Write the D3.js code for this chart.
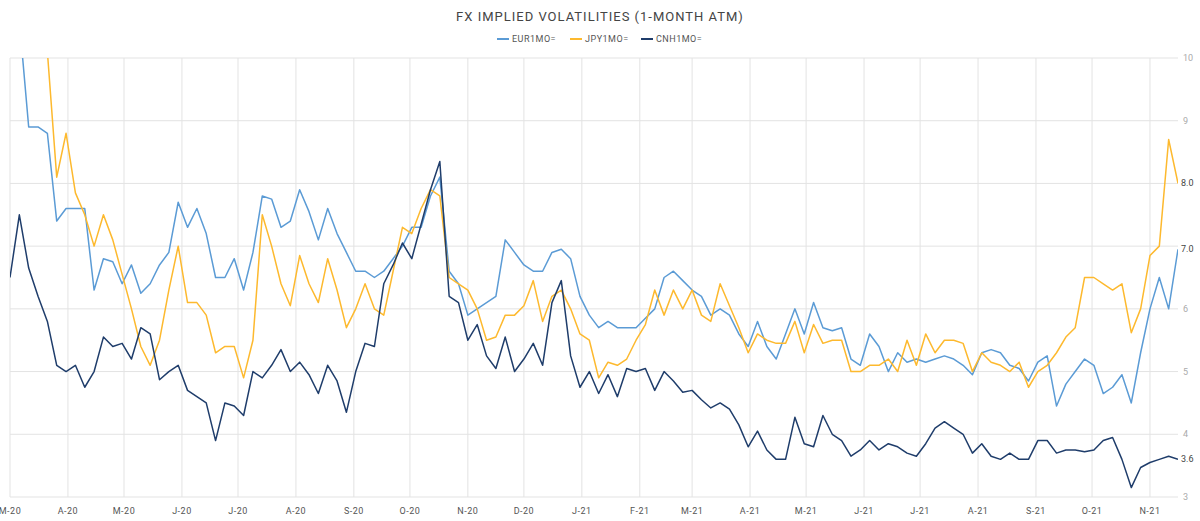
<!DOCTYPE html>
<html>
<head>
<meta charset="utf-8">
<script src="https://cdn.jsdelivr.net/npm/d3@7"></script>
<style>
  body { margin: 0; background: #fff; }
  text { font-family: Roboto, "DejaVu Sans", sans-serif; }
</style>
</head>
<body>
<div id="chart"></div>
<script>
// sampled every 5 days starting 1 Mar 2020
const startDate = new Date(2020, 2, 1);
const stepDays = 5;

const eur = [10.6,10.6,8.9,8.9,8.8,7.4,7.6,7.6,7.6,6.3,6.8,6.75,6.4,6.7,6.25,6.4,6.7,6.9,7.7,7.3,
  7.6,7.2,6.5,6.5,6.8,6.3,6.9,7.8,7.75,7.3,7.4,7.9,7.55,7.1,7.6,7.2,6.9,6.6,6.6,6.5,
  6.6,6.8,7.0,7.3,7.3,7.8,8.1,6.6,6.4,5.9,6.0,6.1,6.2,7.1,6.9,6.7,6.6,6.6,6.9,6.95,
  6.8,6.2,5.9,5.7,5.8,5.7,5.7,5.7,5.85,6.0,6.5,6.6,6.45,6.3,6.2,5.9,6.0,5.9,5.6,5.4,
  5.8,5.4,5.2,5.6,6.0,5.6,6.1,5.7,5.65,5.7,5.2,5.1,5.6,5.4,5.0,5.3,5.15,5.2,5.15,5.2,
  5.25,5.2,5.1,4.95,5.3,5.35,5.3,5.1,5.05,4.85,5.15,5.25,4.45,4.8,5.0,5.2,5.1,4.65,4.75,4.95,
  4.5,5.3,6.0,6.5,6.0,6.95];

const jpy = [11.5,11.2,10.8,10.4,10.1,8.1,8.8,7.85,7.5,7.0,7.5,7.1,6.55,6.0,5.4,5.1,5.5,6.3,7.0,6.1,
  6.1,5.9,5.3,5.4,5.4,4.9,5.5,7.5,7.0,6.4,6.05,6.85,6.4,6.1,6.8,6.3,5.7,6.0,6.4,6.0,
  5.9,6.6,7.3,7.2,7.6,7.9,7.8,6.5,6.4,6.3,6.0,5.5,5.55,5.9,5.9,6.05,6.45,5.8,6.2,6.3,
  6.0,5.6,5.5,4.9,5.15,5.1,5.2,5.5,5.75,6.3,5.9,6.3,6.0,6.3,5.9,5.8,6.4,6.05,5.7,5.3,
  5.6,5.5,5.45,5.45,5.8,5.3,5.75,5.45,5.5,5.5,5.0,5.0,5.1,5.1,5.2,5.0,5.5,5.1,5.6,5.3,
  5.5,5.5,5.45,5.0,5.3,5.15,5.1,5.0,5.15,4.75,5.0,5.1,5.3,5.55,5.7,6.5,6.5,6.4,6.3,6.4,
  5.62,6.0,6.85,7.0,8.7,8.0];

const cnh = [6.5,7.5,6.65,6.2,5.8,5.1,5.0,5.1,4.75,5.0,5.55,5.4,5.45,5.2,5.7,5.6,4.87,5.0,5.1,4.7,
  4.6,4.5,3.9,4.5,4.45,4.3,5.0,4.9,5.1,5.35,5.0,5.15,4.95,4.65,5.1,4.85,4.35,5.0,5.45,5.4,
  6.4,6.7,7.05,6.8,7.35,7.9,8.35,6.2,6.1,5.5,5.75,5.25,5.05,5.55,5.0,5.2,5.45,5.1,6.1,6.45,
  5.25,4.75,5.0,4.65,4.95,4.6,5.05,5.0,5.05,4.7,5.0,4.85,4.67,4.7,4.55,4.42,4.5,4.4,4.15,3.8,
  4.05,3.75,3.6,3.6,4.27,3.85,3.8,4.3,4.0,3.9,3.65,3.75,3.9,3.75,3.85,3.8,3.7,3.65,3.85,4.1,
  4.2,4.1,4.0,3.7,3.85,3.65,3.6,3.7,3.6,3.6,3.9,3.9,3.7,3.75,3.75,3.72,3.75,3.9,3.95,3.6,
  3.15,3.47,3.55,3.6,3.65,3.6];

const seriesNames = ['EUR1MO=', 'JPY1MO=', 'CNH1MO='];
const seriesColors = ['#5b9bd5', '#fdb92e', '#1f3d6b'];
const yTicks = [3, 4, 5, 6, 7, 8, 9, 10];
const monthLetters = ['J','F','M','A','M','J','J','A','S','O','N','D'];

const width = 1200, height = 521;
const margin = { top: 58, right: 1200 - 1178, bottom: 521 - 497, left: 10 };

const dates = eur.map((_, i) => d3.timeDay.offset(startDate, i * stepDays));

const x = d3.scaleTime()
  .domain([startDate, dates[dates.length - 1]])
  .range([margin.left, width - margin.right]);
const y = d3.scaleLinear()
  .domain([3, 10])
  .range([height - margin.bottom, margin.top]);

const svg = d3.select('#chart').append('svg')
  .attr('width', width).attr('height', height);

svg.append('defs').append('clipPath').attr('id', 'plot-clip')
  .append('rect')
  .attr('x', margin.left).attr('y', margin.top)
  .attr('width', width - margin.left - margin.right)
  .attr('height', height - margin.bottom - margin.top);

// gridlines
svg.append('g').selectAll('line').data(yTicks).join('line')
  .attr('x1', margin.left).attr('x2', width - margin.right)
  .attr('y1', d => y(d)).attr('y2', d => y(d))
  .style('stroke', '#e3e3e3').style('stroke-width', 1);

const months = d3.timeMonth.range(startDate, dates[dates.length - 1]);
svg.append('g').selectAll('line').data(months).join('line')
  .attr('x1', d => x(d)).attr('x2', d => x(d))
  .attr('y1', margin.top).attr('y2', height - margin.bottom)
  .style('stroke', '#e3e3e3').style('stroke-width', 1);

// x labels
svg.append('g').selectAll('text').data(months).join('text')
  .attr('x', d => x(d)).attr('y', 514)
  .style('font-size', '9px').style('fill', '#555').style('letter-spacing', '0.5px')
  .style('text-anchor', 'middle')
  .text(d => monthLetters[d.getMonth()] + '-' + String(d.getFullYear()).slice(2));

const allSeries = [eur, jpy, cnh];
const lastValues = allSeries.map(s => s[s.length - 1]);

// y labels (right), skipped where a last-value label sits on top
svg.append('g').selectAll('text')
  .data(yTicks.filter(t => !lastValues.some(v => Math.abs(y(v) - y(t)) < 8)))
  .join('text')
  .attr('x', 1183).attr('y', d => y(d) + 3)
  .style('font-size', '9px').style('fill', '#aaa')
  .text(d => d);

// lines
const line = d3.line().x((d, i) => x(dates[i])).y(d => y(d));
const plot = svg.append('g').attr('clip-path', 'url(#plot-clip)');
allSeries.forEach((s, k) => {
  plot.append('path').datum(s)
    .attr('d', line)
    .style('fill', 'none')
    .style('stroke', seriesColors[k])
    .style('stroke-width', 1.5)
    .style('stroke-linejoin', 'round');
});

// last value labels
lastValues.forEach(last => {
  svg.append('text')
    .attr('x', 1181).attr('y', y(last) + 3)
    .style('font-size', '9px').style('fill', '#444')
    .text(last.toFixed(1));
});

// title
svg.append('text')
  .attr('x', 600).attr('y', 21)
  .style('font-size', '13px').style('fill', '#444').style('letter-spacing', '1px')
  .style('text-anchor', 'middle')
  .text('FX IMPLIED VOLATILITIES (1-MONTH ATM)');

// legend
const legendX = [497, 570, 641];
const legend = svg.append('g');
seriesNames.forEach((name, k) => {
  legend.append('line')
    .attr('x1', legendX[k]).attr('x2', legendX[k] + 12)
    .attr('y1', 39).attr('y2', 39)
    .style('stroke', seriesColors[k]).style('stroke-width', 2);
  legend.append('text')
    .attr('x', legendX[k] + 15).attr('y', 42)
    .style('font-size', '9px').style('fill', '#555').style('letter-spacing', '0.5px')
    .text(name);
});
</script>
</body>
</html>
